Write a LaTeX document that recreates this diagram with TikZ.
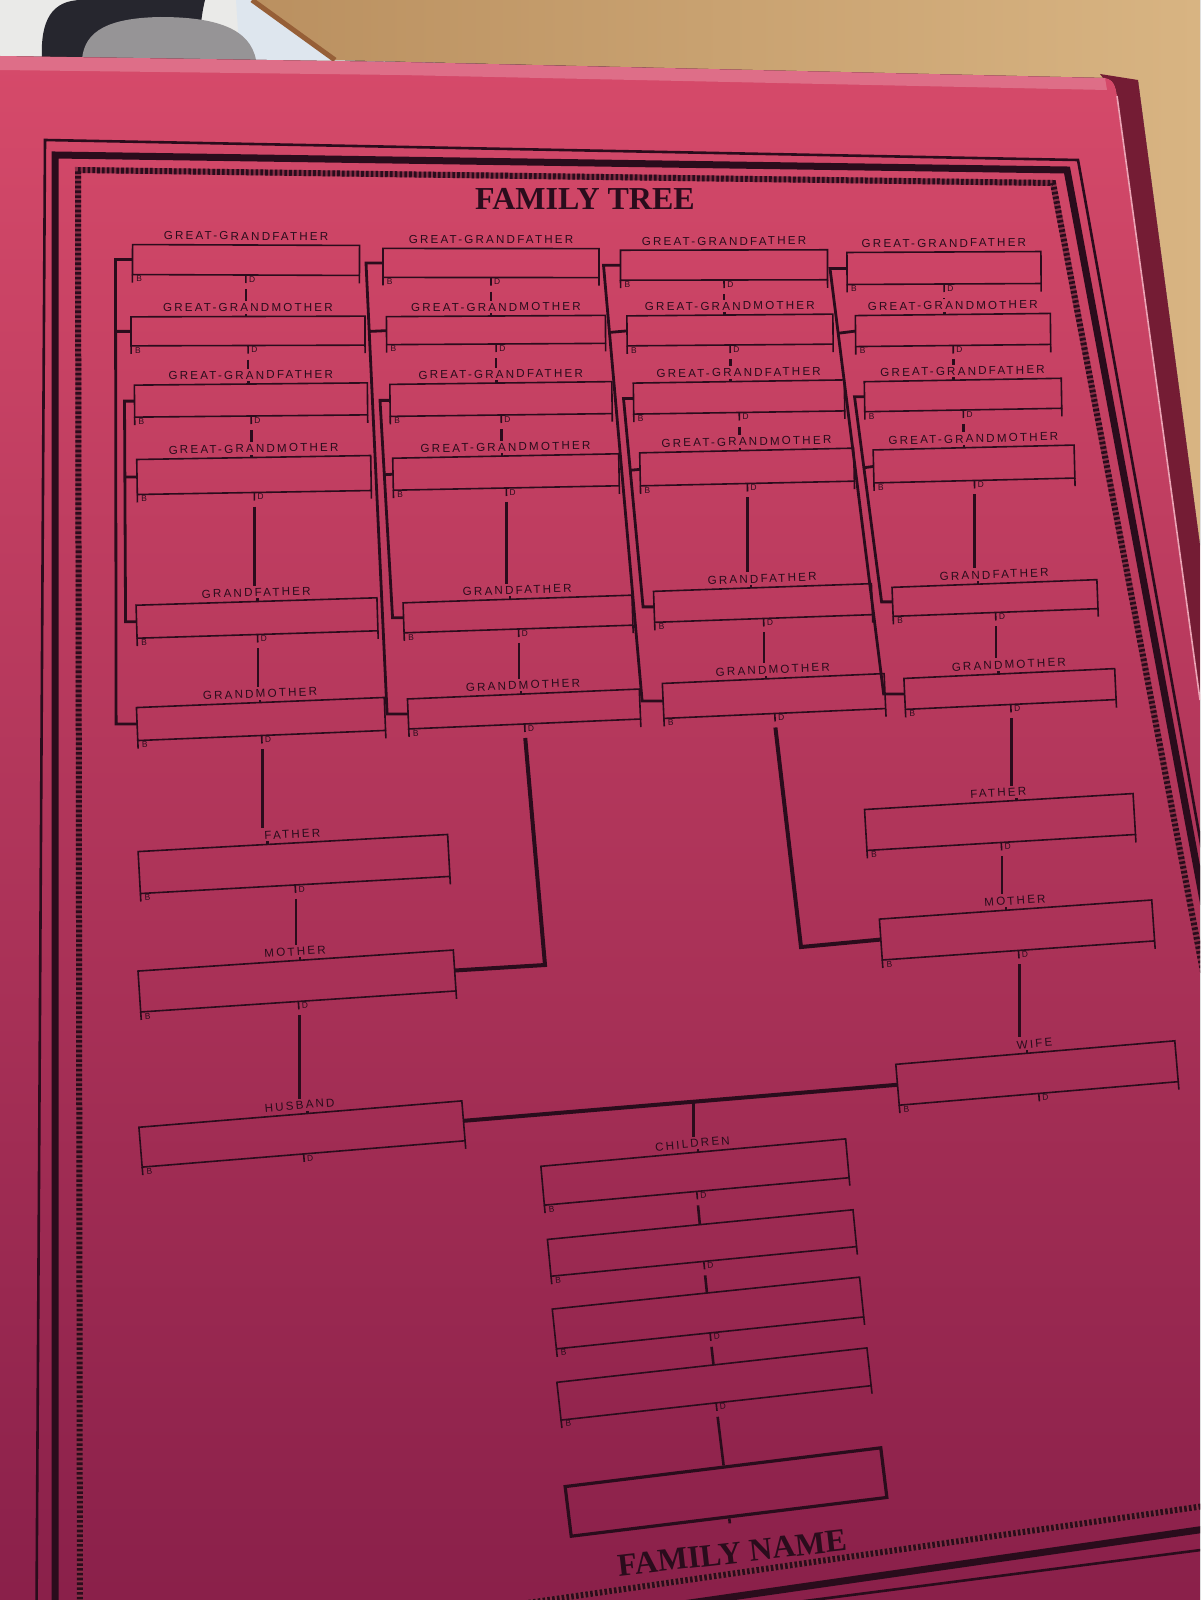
\documentclass[tikz,border=0pt]{standalone}
\usepackage{fontspec}
\setmainfont{Liberation Serif}
\newfontfamily\chartsans[LetterSpace=19]{Liberation Sans}
\usetikzlibrary{calc,positioning}

\definecolor{ink}{RGB}{42,12,28}
\definecolor{cardtop}{RGB}{214,74,106}
\definecolor{cardbot}{RGB}{138,32,74}
\definecolor{cardside}{RGB}{116,28,52}
\definecolor{woodlt}{RGB}{216,180,130}
\definecolor{wooddk}{RGB}{186,144,96}
\definecolor{backwall}{RGB}{234,234,232}
\definecolor{darkobj}{RGB}{38,38,46}
\definecolor{sponge}{RGB}{150,148,150}
\definecolor{panel}{RGB}{222,230,238}
\definecolor{strap}{RGB}{150,95,55}

\tikzset{
  recbox/.style={draw=ink, line width=0.8pt, inner sep=0pt, outer sep=0pt},
  recline/.style={draw=ink, line width=0.8pt},
  reclab/.style={font=\chartsans\fontsize{5.8}{6}\selectfont, text=ink, inner sep=1pt},
  bdlab/.style={font=\chartsans\fontsize{4.2}{5}\selectfont, text=ink, inner sep=0.6pt},
  link/.style={draw=ink, line width=1.3pt},
  bracket/.style={draw=ink, line width=1.4pt},
  spouse/.style={draw=ink, line width=2pt},
  ropebase/.style={draw=ink!45!cardtop, line width=3pt},
  ropetwist/.style={draw=ink, line width=3pt, dash pattern=on 1.3pt off 1.1pt},
  title/.style={font=\bfseries\fontsize{16}{18}\selectfont, text=ink, inner sep=1pt}
}

% one record: name, centre x, centre y, width, height, label
\newcommand{\famrec}[6]{%
  \pgfmathsetmacro{\recang}{(#3-300)/180+(#2-250)/1500}
  \node[recbox, minimum width=#4*0.5pt, minimum height=#5*0.5pt, rotate=\recang] (#1) at (#2,#3) {};
  \draw[recline] (#1.south west) -- ($(#1.south west)!-4pt!(#1.north west)$);
  \draw[recline] (#1.south east) -- ($(#1.south east)!-4pt!(#1.north east)$);
  \draw[recline] (#1.south) -- ($(#1.south)!-4pt!(#1.north)$);
  \node[bdlab, anchor=north west, rotate=\recang] (#1-b) at ($(#1.south west)!1.2pt!(#1.south east)$) {B};
  \node[bdlab, anchor=north west, rotate=\recang] (#1-d) at ($(#1.south)!0.8pt!(#1.south east)$) {D};
  \node[reclab, anchor=south, rotate=\recang] (#1-lab) at ($(#1.north)!-1.2pt!(#1.south)$) {#6};
  \coordinate (#1-dd) at ($(#1.south)!-7pt!(#1.north)$);
}
% descent line from one record to the next one's label
\newcommand{\famlink}[2]{%
  \draw[link] (#1-dd) -- (#1-dd |- #2-lab.north);
  \draw[link] ($(#2.north west)!(#1-dd)!(#2.north east)$) -- ++(0,-3);
}

\begin{document}
\begin{tikzpicture}[x=0.5pt, y=-0.5pt]
\useasboundingbox (0,0) rectangle (1200,1600);
\clip (0,0) rectangle (1200,1600);

% what lies behind the card
\fill[backwall] (0,0) rectangle (1200,120);
\fill[left color=wooddk, right color=woodlt] (252,0) -- (1200,0) -- (1200,545) -- (1138,80) -- (335,60) -- cycle;
\fill[panel] (236,0) -- (252,0) -- (335,60) -- (240,60) -- cycle;
\draw[strap, line width=2.5pt] (252,0) -- (335,60);
\fill[darkobj] (42,60) .. controls (40,20) and (52,0) .. (82,0) -- (205,0) .. controls (200,20) and (200,40) .. (198,60) -- cycle;
\fill[sponge] (82,60) .. controls (84,30) and (110,18) .. (160,17) .. controls (215,17) and (250,28) .. (256,60) -- cycle;

% the card
\fill[cardside] (1100,74) -- (1138,80) -- (1200,545) -- (1200,700) -- (1117,96) -- cycle;
\fill[top color=cardtop, bottom color=cardbot] (0,56) -- (400,62) -- (1105,78) .. controls (1113,79) and (1116,86) .. (1117,96) -- (1200,700) -- (1200,1600) -- (0,1600) -- cycle;
\fill[cardtop!55!white, opacity=0.45] (0,56) -- (400,62) -- (1105,78) -- (1107,90) -- (400,75) -- (0,70) -- cycle;
\draw[cardtop!50!white, line width=0.8pt] (1117,96) -- (1200,700);

% border
\draw[ink, line width=1.3pt] (45,140) -- (1078,160) -- (1325,1534) -- (36,1700) -- cycle;
\draw[ink, line width=3.5pt] (55,155) -- (1067,170) -- (1317,1513) -- (55,1694) -- cycle;
\draw[ropebase] (78,170) -- (1053,183) -- (1302,1492) -- (80,1667) -- cycle;
\draw[ropetwist] (78,170) -- (1053,183) -- (1302,1492) -- (80,1667) -- cycle;

\node[title] (title) at (585,199) {FAMILY TREE};

% four great-grandparent columns
\famrec{A-ggf1}{246}{260}{227}{30}{GREAT-GRANDFATHER}
\famrec{A-ggm1}{248}{331}{234}{29}{GREAT-GRANDMOTHER}
\famrec{A-ggf2}{251}{400}{233}{32}{GREAT-GRANDFATHER}
\famrec{A-ggm2}{254}{475}{234}{35}{GREAT-GRANDMOTHER}
\famrec{A-gf}{257}{618}{241}{33}{GRANDFATHER}
\famrec{A-gm}{261}{719}{248}{33}{GRANDMOTHER}

\famrec{B-ggf1}{491}{263}{216}{29}{GREAT-GRANDFATHER}
\famrec{B-ggm1}{496}{330}{219}{28}{GREAT-GRANDMOTHER}
\famrec{B-ggf2}{501}{399}{222}{32}{GREAT-GRANDFATHER}
\famrec{B-ggm2}{506}{472}{226}{32}{GREAT-GRANDMOTHER}
\famrec{B-gf}{518}{614}{229}{30}{GRANDFATHER}
\famrec{B-gm}{524}{709}{232}{30}{GRANDMOTHER}

\famrec{C-ggf1}{724}{265}{207}{30}{GREAT-GRANDFATHER}
\famrec{C-ggm1}{730}{330}{206}{30}{GREAT-GRANDMOTHER}
\famrec{C-ggf2}{739}{397}{211}{31}{GREAT-GRANDFATHER}
\famrec{C-ggm2}{747}{467}{214}{33}{GREAT-GRANDMOTHER}
\famrec{C-gf}{763}{603}{218}{31}{GRANDFATHER}
\famrec{C-gm}{774}{696}{222}{35}{GRANDMOTHER}

\famrec{D-ggf1}{944}{268}{194}{32}{GREAT-GRANDFATHER}
\famrec{D-ggm1}{953}{330}{195}{31}{GREAT-GRANDMOTHER}
\famrec{D-ggf2}{963}{395}{197}{30}{GREAT-GRANDFATHER}
\famrec{D-ggm2}{974}{464}{201}{33}{GREAT-GRANDMOTHER}
\famrec{D-gf}{995}{598}{205}{29}{GRANDFATHER}
\famrec{D-gm}{1010}{689}{211}{31}{GRANDMOTHER}

\foreach \c in {A,B,C,D}{
  \famlink{\c-ggf1}{\c-ggm1}
  \famlink{\c-ggm1}{\c-ggf2}
  \famlink{\c-ggf2}{\c-ggm2}
  \famlink{\c-ggm2}{\c-gf}
  \famlink{\c-gf}{\c-gm}
  \draw[bracket] (\c-ggf1.west) -- ++(-17,0) coordinate (\c-o1) -- ($(\c-gm.west)+(-21,0)$) coordinate (\c-o2) -- (\c-gm.west);
  \draw[bracket] (\c-ggm1.west) -- ($(\c-o1)!(\c-ggm1.west)!(\c-o2)$);
  \draw[bracket] (\c-ggf2.west) -- ++(-10,0) coordinate (\c-i1) -- ($(\c-gf.west)+(-11,0)$) coordinate (\c-i2) -- (\c-gf.west);
  \draw[bracket] (\c-ggm2.west) -- ($(\c-i1)!(\c-ggm2.west)!(\c-i2)$);
}

% husband's side
\famrec{hfather}{294}{864}{310}{42}{FATHER}
\famrec{hmother}{297}{981}{316}{41}{MOTHER}
\famrec{husband}{302}{1134}{324}{40}{HUSBAND}
\famlink{A-gm}{hfather}
\famlink{hfather}{hmother}
\famlink{hmother}{husband}
\coordinate (Bturn) at (545,965);
\draw[spouse] (B-gm-dd) -- (Bturn) -- (hmother.east);

% wife's side
\famrec{wfather}{1000}{822}{269}{41}{FATHER}
\famrec{wmother}{1017}{930}{273}{41}{MOTHER}
\famrec{wife}{1037}{1073}{280}{41}{WIFE}
\famlink{D-gm}{wfather}
\famlink{wfather}{wmother}
\famlink{wmother}{wife}
\coordinate (Cturn) at (801,947);
\draw[spouse] (C-gm-dd) -- (Cturn) -- (wmother.west);

% children
\draw[spouse] (husband.east) -- (wife.west);
\coordinate (kids) at ($(husband.east)!0.53!(wife.west)$);
\famrec{child1}{695}{1172}{306}{39}{CHILDREN}
\famrec{child2}{702}{1243}{307}{37}{}
\famrec{child3}{708}{1313}{309}{40}{}
\famrec{child4}{714}{1384}{312}{38}{}
\draw[link] (kids) -- (kids |- child1-lab.north);
\draw[link] ($(child1.north west)!(kids)!(child1.north east)$) -- ++(0,-3);
\draw[link] (child1-dd) -- ($(child2.north west)!(child1-dd)!(child2.north east)$);
\draw[link] (child2-dd) -- ($(child3.north west)!(child2-dd)!(child3.north east)$);
\draw[link] (child3-dd) -- ($(child4.north west)!(child3-dd)!(child4.north east)$);

\node[draw=ink, line width=1.6pt, inner sep=0pt, minimum width=318*0.5pt, minimum height=50*0.5pt, rotate=7] (famname) at (726,1492) {};
\draw[link] (child4-dd) -- ($(famname.north west)!(child4-dd)!(famname.north east)$);
\draw[link] (famname.south) -- ($(famname.south)!-2.5pt!(famname.north)$);
\node[title, rotate=6.5] (fname) at (732,1553) {FAMILY NAME};
\end{tikzpicture}
\end{document}
